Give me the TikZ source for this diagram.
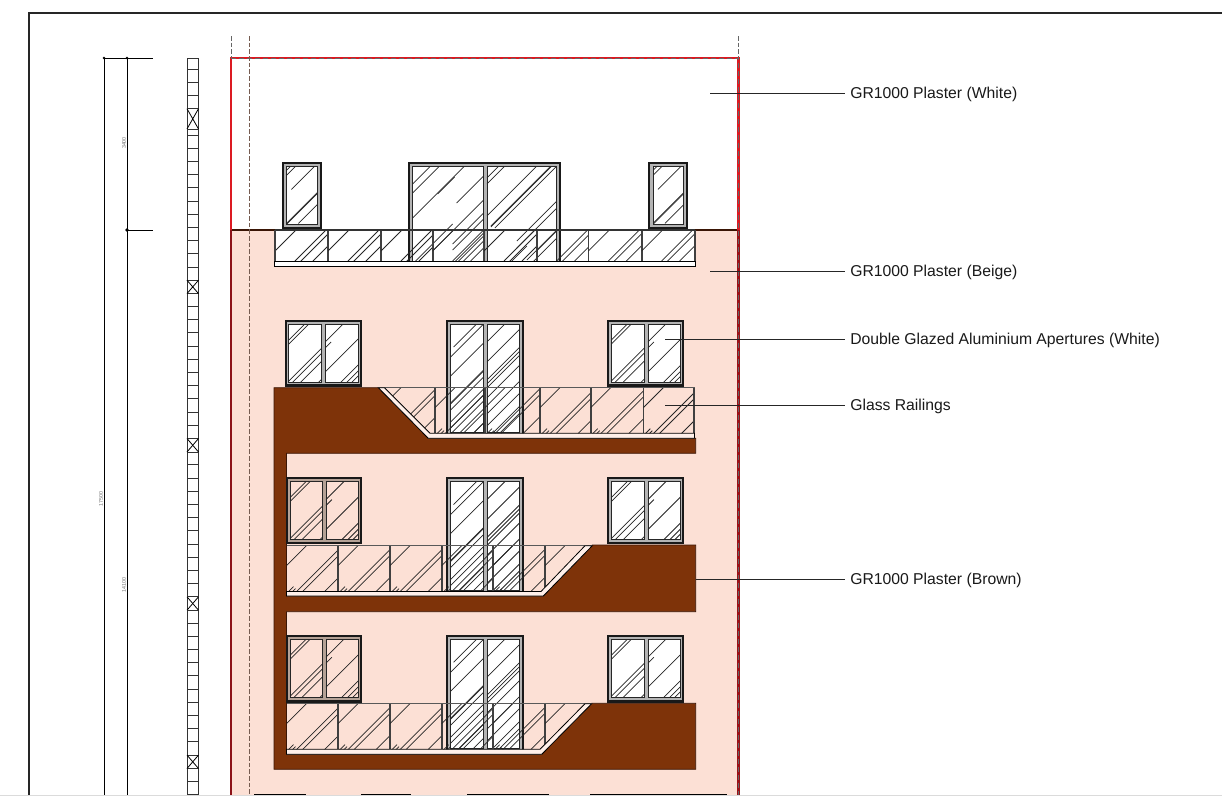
\documentclass[tikz,border=0pt]{standalone}
\usepackage{fontspec}
\setmainfont{Liberation Sans}
\definecolor{beige}{HTML}{FCE0D5}
\definecolor{stripc}{HTML}{FFF0EA}
\definecolor{brownp}{HTML}{7E3309}
\definecolor{brownl}{HTML}{3A1505}
\definecolor{redb}{HTML}{DC1A22}
\definecolor{redd}{HTML}{8C1218}
\definecolor{bandw}{HTML}{B4B4B4}
\definecolor{bandb}{HTML}{B5A296}
\tikzset{
 glassline/.style={line width=.55pt,color=black!85},
 framepen/.style={line width=1.5pt,draw=black!90},
 panepen/.style={line width=.55pt,draw=black!85},
 divider/.style={line width=1.2pt,color=black!75},
 dimline/.style={line width=.6pt,color=black},
 leader/.style={line width=.6pt,color=black!85},
 ladder/.style={line width=.7pt,color=black!80},
 callout/.style={anchor=west,inner xsep=3.75pt,inner ysep=0pt,font=\fontsize{11.8}{13}\selectfont,text=black!90},
 tinytext/.style={rotate=90,font=\fontsize{4}{5}\selectfont,text=black!55,inner sep=0pt},
 guide/.style={line width=.65pt,color=black!60,dash pattern=on 3.5pt off 1.5pt},
}
% hatch lines at 45 degrees inside a clip path
\newcommand{\hatchp}[4]{\begin{scope}\clip #1;
 \foreach \hc/\hs/\he in #4 {\draw[glassline] (#2+\hs,#3+\hc-\hs) -- (#2+\he,#3+\hc-\he);}
 \end{scope}}
\newcommand{\wintwo}[9]{%
 \draw[framepen,fill=#7] (#1,#4) rectangle (#3,#5);
 \draw[line width=2.2pt,color=black!90] (#1,#5) -- (#3,#5);
 \draw[panepen,fill=#6] (#1+3.3,#4+3.3) rectangle (#2-1.9,#5-3.8);
 \draw[panepen,fill=#6] (#2+1.9,#4+3.3) rectangle (#3-3.3,#5-3.8);
 \hatchp{(#1+3.3,#4+3.3) rectangle (#2-1.9,#5-3.8)}{#1+3.3}{#4+3.3}{#8}
 \hatchp{(#2+1.9,#4+3.3) rectangle (#3-3.3,#5-3.8)}{#2+1.9}{#4+3.3}{#9}}
\newcommand{\winone}[4]{%
 \draw[framepen,fill=bandw] (#1,#2) rectangle (#3,#4);
 \draw[panepen,fill=white] (#1+3.7,#2+3.7) rectangle (#3-3.7,#4-3.4);
 \hatchp{(#1+3.7,#2+3.7) rectangle (#3-3.7,#4-3.4)}{#1+3.7}{#2+3.7}{\LA}}
\newcommand{\railp}[4]{\hatchp{(#1,#2) rectangle (#3,#4)}{#1}{#2}{\RA}
 \draw[divider] (#3,#2) -- (#3,#4);}
\newcommand{\railq}[4]{\hatchp{(#1,#2) rectangle (#3,#4)}{#1}{#2}{\RB}
 \draw[divider] (#3,#2) -- (#3,#4);}
\def\LA{4/0/40,9/0/40,28/5/40,57/0/40,58/0/40,69/12/40}
\def\WL{16/0/40,20/0/40,57/0/40,62/0/40,70/0/40,88/0/40}
\def\WR{18/0/40,24/0/6,48/0/40,74/0/40,80/0/40,85/0/40}
\def\DL{26/3/40,33/0/40,52/0/40,79/0/40,80/0/40,86/0/40,98/0/40,104/0/40,118/0/40,122/0/40,132/0/40}
\def\DR{18/0/40,38/0/40,56/0/40,60/0/40,64/0/40,74/0/40,90/0/40,102/0/40,115/0/40,122/0/40}
\def\TL{18/0/80,27/0/80,52/0/80,53/25/42,81/44/80,98/0/40,105/20/80,118/40/80,124/40/80,138/0/80,146/40/80}
\def\TR{12/0/80,18/0/80,50/0/80,64/4/80,65/4/80,70/8/80,105/30/80,112/30/80,120/0/40,134/40/80,142/40/80}
\def\RA{21/0/21,51/20/60,57/25/60,69/38/60}
\def\RB{20/0/21,48/0/7,52/4/9,56/9/60,62/16/60,84/38/60}
\begin{document}
\begin{tikzpicture}[x=.75pt,y=-.75pt]
\useasboundingbox (0,0) rectangle (1222,807);
\begin{scope}
\clip (0,0) rectangle (1222,795);
% sheet frame
\draw[line width=.85pt,color=black!85] (29,795) -- (29,13) -- (1222,13);
% dimension lines
\draw[dimline] (104,58) -- (104,795);
\draw[dimline] (127,58) -- (127,795);
\draw[dimline] (104,58) -- (153,58);
\draw[dimline] (127,230) -- (153,230);
\fill (104,58) circle (1.4);
\fill (127,58) circle (1.4);
\fill (127,230) circle (1.8);
\node[tinytext] (d1) at (124,143) {3400};
\node[tinytext] (d2) at (101,499) {17500};
\node[tinytext] (d3) at (124,585) {14100};
% level ladder
\draw[ladder] (187,58) -- (187,795) (198.5,58) -- (198.5,795) (187,58) -- (198.5,58) (187,69.4) -- (198.5,69.4) (187,82.7) -- (198.5,82.7) (187,95.7) -- (198.5,95.7);
\foreach \k in {0,...,52} {\draw[ladder] (187,108.7+13.19*\k) -- (198.5,108.7+13.19*\k);}
\fill[white] (187.4,109.2) rectangle (198.1,128.6);
\foreach \a/\b in {108.7/129,280.2/293.6,438.5/452,596.8/610.2,755.1/768.5} {
 \draw[ladder,fill=white] (187,\a) rectangle (198.5,\b);
 \draw[line width=.6pt] (187,\a) -- (198.5,\b) (198.5,\a) -- (187,\b);}
\draw[ladder] (187,129.3) -- (198.5,129.3);
% wall fill
\fill[beige] (231,230) rectangle (738.5,795);
\draw[line width=.9pt,color=brownl] (231,230) -- (738.5,230);
% brown plaster
\draw[line width=.6pt,draw=brownl,fill=brownp] (274,387.7) -- (378.3,387.7) -- (428.3,438.3) -- (695.7,438.3) -- (695.7,453.3) -- (286.5,453.3) -- (286.5,545.7) -- (286.5,596) -- (543.3,596) -- (592.3,545) -- (695.7,545) -- (695.7,611.7) -- (286.5,611.7) -- (286.5,754.3) -- (541.7,754.3) -- (591.7,703.3) -- (695.7,703.3) -- (695.7,769.3) -- (274,769.3) -- cycle;
% top storey
\winone{282.7}{162.7}{320.7}{227.5}
\winone{649.3}{162.7}{687.3}{227.5}
\fill[white] (275,230) rectangle (695,262);
\wintwo{409.3}{485}{560}{162.7}{265.5}{white}{bandw}{\TL}{\TR}
\railp{275}{230}{328}{261.7}
\railp{328}{230}{381}{261.7}
\railp{381}{230}{432.7}{261.7}
\railp{432.7}{230}{484}{261.7}
\railp{484}{230}{536.7}{261.7}
\railp{536.7}{230}{588.3}{261.7}
\railp{588.3}{230}{641.7}{261.7}
\railp{641.7}{230}{695}{261.7}
\draw[line width=1pt,color=black!80] (274.5,230) -- (695,230);
\draw[divider] (274.7,230) -- (274.7,262);
\draw[line width=.7pt,draw=black,fill=white] (274.5,261.7) rectangle (695,266.7);
% second storey
\wintwo{285.5}{323.3}{361.3}{320.7}{385.8}{white}{bandw}{\WL}{\WR}
\wintwo{608}{646}{683.3}{320.7}{385.8}{white}{bandw}{\WL}{\WR}
\wintwo{447.3}{485}{522.7}{320.7}{436}{white}{bandw}{\DL}{\DR}
\hatchp{(384,387.7) -- (435,387.7) -- (435,433.3) -- (430,433.3) -- cycle}{381}{387.7}{\RB}
\draw[divider] (435,387.7) -- (435,433.3);
\railq{435}{387.7}{485}{433.3}
\railq{485}{387.7}{540}{433.3}
\railq{540}{387.7}{590.7}{433.3}
\railq{590.7}{387.7}{643.3}{433.3}
\railq{643.3}{387.7}{694}{433.3}
\draw[line width=.6pt,color=black!65] (378,387.7) -- (695,387.7);
\draw[line width=.6pt,draw=black,fill=stripc] (384.5,387.7) -- (430,433.3) -- (694.5,433.3) -- (694.5,438.3) -- (428.3,438.3) -- (378.3,387.7) -- cycle;
% third storey
\wintwo{286.8}{324}{361.3}{478.3}{543}{beige}{bandb}{\WL}{\WR}
\wintwo{608}{646}{683.3}{478.3}{543}{white}{bandw}{\WL}{\WR}
\wintwo{447.3}{485}{522.7}{478.3}{594}{white}{bandw}{\DL}{\DR}
\railq{286.5}{545.7}{338}{591.5}
\railq{338}{545.7}{390}{591.5}
\railq{390}{545.7}{441.7}{591.5}
\railq{441.7}{545.7}{492.7}{591.5}
\railq{492.7}{545.7}{545}{591.5}
\hatchp{(545,545.7) -- (586,545.7) -- (545,591.5) -- cycle}{545}{545.7}{\RB}
\draw[line width=.6pt,color=black!65] (286.5,545.7) -- (592,545.7);
\draw[line width=.6pt,draw=black,fill=stripc] (286.5,591.5) -- (541,591.5) -- (585,545.7) -- (592.3,545.7) -- (543.3,596) -- (286.5,596) -- cycle;
% fourth storey
\wintwo{286.8}{324}{361.3}{636}{701.5}{beige}{bandb}{\WL}{\WR}
\wintwo{608}{646}{683.3}{636}{701.5}{white}{bandw}{\WL}{\WR}
\wintwo{447.3}{485}{522.7}{636}{752}{white}{bandw}{\DL}{\DR}
\railq{286.5}{703.7}{338}{749.3}
\railq{338}{703.7}{390}{749.3}
\railq{390}{703.7}{441.7}{749.3}
\railq{441.7}{703.7}{492.7}{749.3}
\railq{492.7}{703.7}{545}{749.3}
\hatchp{(545,703.7) -- (586,703.7) -- (545,749.3) -- cycle}{545}{703.7}{\RB}
\draw[line width=.6pt,color=black!65] (286.5,703.7) -- (592,703.7);
\draw[line width=.6pt,draw=black,fill=stripc] (286.5,749.3) -- (540,749.3) -- (585,703.7) -- (591.7,703.7) -- (541.7,754.3) -- (286.5,754.3) -- cycle;
% boundary and guides
\draw[line width=1.7pt,color=redb] (231,230) -- (231,58) -- (738.5,58) -- (738.5,230);
\draw[line width=1.6pt,color=redd] (231,230) -- (231,795);
\draw[line width=1.6pt,color=redb!70!black] (738.5,230) -- (738.5,795);
\draw[line width=.45pt,color=black!60,dash pattern=on 4pt off 2pt] (231,58) -- (738.5,58) -- (738.5,795);
\draw[guide] (231,36) -- (231,58);
\draw[guide] (738.5,36) -- (738.5,58);
\draw[guide,color=brownl!70] (249,36) -- (249,795);
% stubs at the sheet edge
\draw[line width=.9pt] (254,794.3) -- (305.5,794.3) (361,794.3) -- (411,794.3) (467,794.3) -- (548.5,794.3) (590,794.3) -- (727,794.3);
\end{scope}
\draw[line width=.7pt,color=black!14] (0,795.3) -- (1222,795.3);
% callouts
\coordinate (e1) at (710,93.5);
\coordinate (e2) at (710,271.5);
\coordinate (e3) at (665,339.5);
\coordinate (e4) at (665,405.5);
\coordinate (e5) at (695.7,579.5);
\node[callout] (t1) at (845,94.5) {GR1000 Plaster (White)};
\node[callout] (t2) at (845,272.5) {GR1000 Plaster (Beige)};
\node[callout] (t3) at (845,340.5) {Double Glazed Aluminium Apertures (White)};
\node[callout] (t4) at (845,406.5) {Glass Railings};
\node[callout] (t5) at (845,580.5) {GR1000 Plaster (Brown)};
\draw[leader] (e1) -- (e1-|t1.west);
\draw[leader] (e2) -- (e2-|t2.west);
\draw[leader] (e3) -- (e3-|t3.west);
\draw[leader] (e4) -- (e4-|t4.west);
\draw[leader] (e5) -- (e5-|t5.west);
\end{tikzpicture}
\end{document}
